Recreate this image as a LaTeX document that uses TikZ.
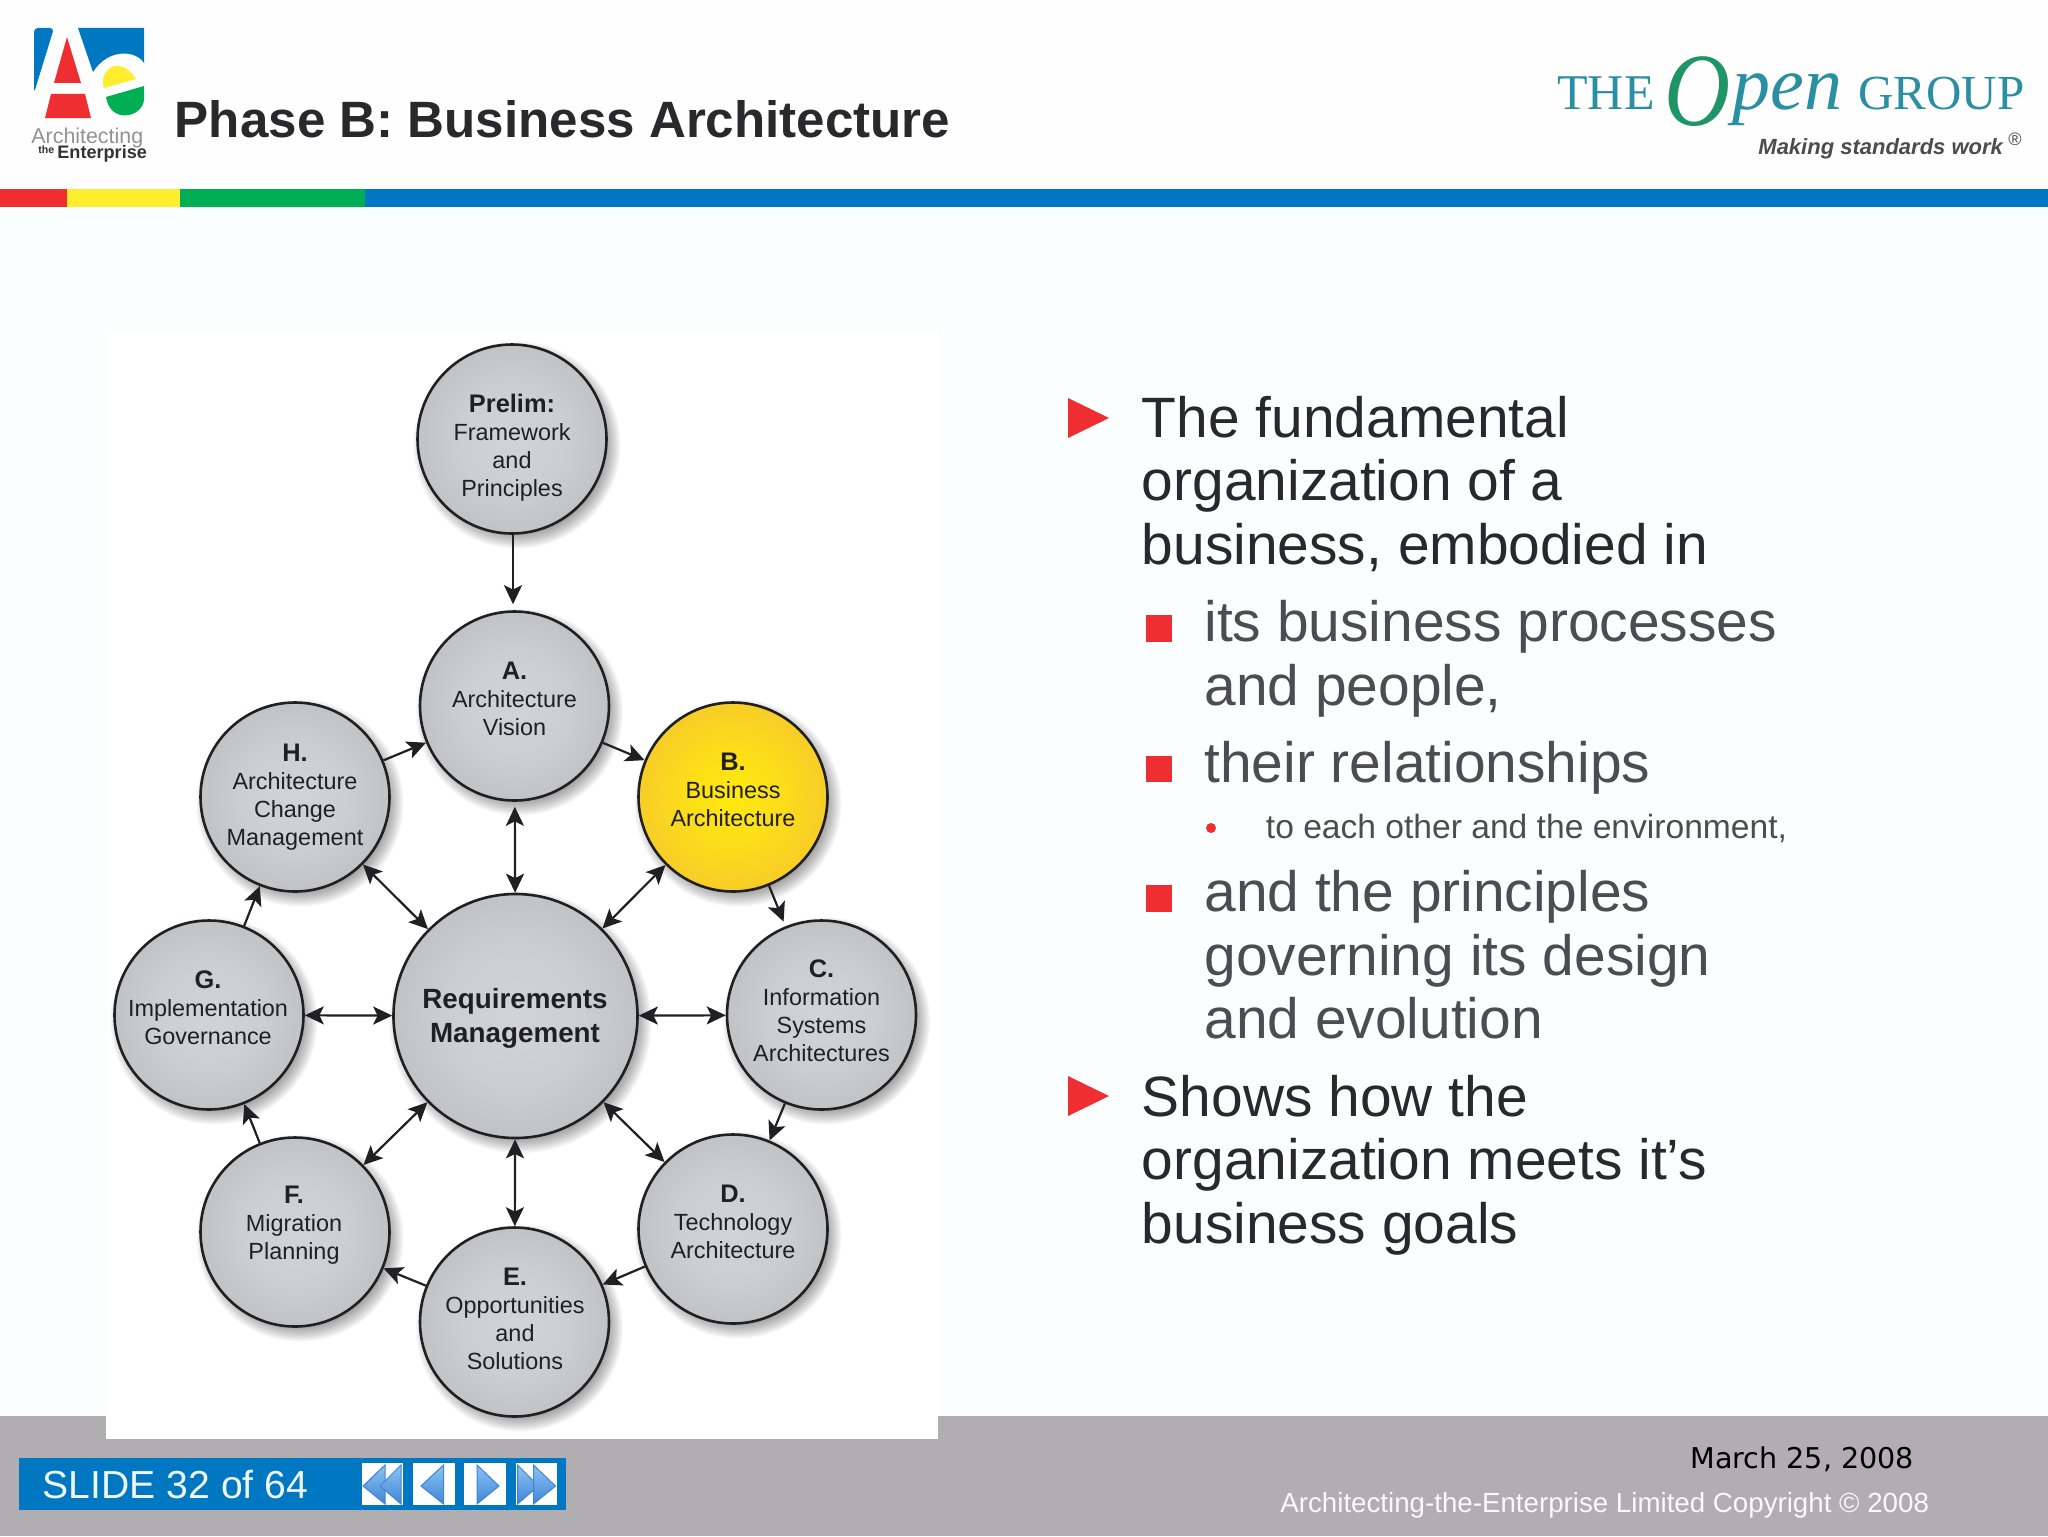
\documentclass[tikz,border=0pt]{standalone}
\usepackage{fontspec}
\usepackage{graphicx}
\setmainfont{Liberation Sans}
\newfontfamily\serifface{Liberation Serif}
\newfontfamily\dejaface{DejaVu Sans}
\usetikzlibrary{arrows.meta}
\definecolor{pagebg}{HTML}{FBFEFF}
\definecolor{headbg}{HTML}{FEFEFE}
\definecolor{footgray}{HTML}{B0AEB0}
\definecolor{barred}{HTML}{EE2E31}
\definecolor{baryellow}{HTML}{FFEE2E}
\definecolor{bargreen}{HTML}{00AE53}
\definecolor{barblue}{HTML}{0078C1}
\definecolor{teal}{HTML}{2B8FA3}
\definecolor{ogreen}{HTML}{1F9464}
\definecolor{levela}{HTML}{29292B}
\definecolor{levelb}{HTML}{4D4D50}
\definecolor{discink}{HTML}{202022}
\definecolor{btnlight}{HTML}{8CC4F5}
\definecolor{btndark}{HTML}{3F84D6}
\pgfdeclareradialshading{graydisc}{\pgfpointorigin}{rgb(0bp)=(.82,.83,.84); rgb(14bp)=(.80,.81,.82); rgb(26bp)=(.75,.76,.77); rgb(36bp)=(.66,.66,.68); rgb(50bp)=(.66,.66,.68)}
\pgfdeclareradialshading{yellowdisc}{\pgfpointorigin}{rgb(0bp)=(1,.92,.05); rgb(12bp)=(.99,.87,.1); rgb(24bp)=(.97,.81,.15); rgb(36bp)=(.95,.76,.18); rgb(50bp)=(.95,.76,.18)}
\tikzset{
  disc/.style={circle,draw=discink,line width=1.3pt,inner sep=0pt,shading=graydisc},
  yellowd/.style={shading=yellowdisc},
  disctext/.style={align=center,inner sep=0pt,text=discink,font=\fontsize{11.7}{14}\selectfont},
  link/.style={draw=discink,line width=1.1pt,>={Stealth[length=9.5pt,width=9pt,inset=2.2pt]}},
  lvlone/.style={align=left,inner sep=0pt,anchor=base west,text=levela,font=\fontsize{28.45}{31.65}\selectfont},
  lvltwo/.style={align=left,inner sep=0pt,anchor=base west,text=levelb,font=\fontsize{28.45}{31.65}\selectfont},
  lvlthree/.style={align=left,inner sep=0pt,anchor=base west,text=levelb,font=\fontsize{16.8}{20}\selectfont},
  bullettri/.style={fill=barred},
  bulletsq/.style={fill=barred},
  plain/.style={inner sep=0pt,anchor=base west},
  btnbox/.style={fill=white},
  btnarrow/.style={draw=btndark,line width=.5pt,top color=btnlight,bottom color=btndark},
}
\newcommand\phd[1]{{\fontsize{12.7}{14}\selectfont\bfseries #1}}
\newcommand\phr[1]{{\fontsize{13.9}{17}\selectfont\bfseries #1}}
\newcommand\phasedisc[8]{%
  \foreach \k in {0,...,13}{\fill[black,opacity=.035] (#2+5,#3+6) circle ({#4+9-\k*1.4});}
  \node[disc,minimum size=#4pt,#5] (#1) at (#2,#3) {};
  \node[disctext] (#1text) at (#6,#7) {#8};
}
\begin{document}
\begin{tikzpicture}[x=.5pt,y=-.5pt]
\useasboundingbox (0,0) rectangle (2048,1536);
\fill[pagebg] (0,0) rectangle (2048,1536);
\fill[headbg] (0,0) rectangle (2048,189);
% colour strip
\fill[barred] (0,189) rectangle (67,207);
\fill[baryellow] (67,189) rectangle (180,207);
\fill[bargreen] (180,189) rectangle (365,207);
\fill[barblue] (365,189) rectangle (2048,207);
% footer and white panel
\fill[footgray] (0,1416) rectangle (2048,1536);
\fill[white] (106,330) rectangle (938,1439);
% AE logo
\fill[barblue,rounded corners=2pt] (34,93) -- (34,28) -- (54,28) -- cycle;
\fill[barblue] (78,28) -- (144,28) -- (144,63) .. controls (136,50) and (108,48) .. (93,72) -- cycle;
\fill[barred] (67,37) -- (81,83) -- (54,83) -- cycle;
\fill[barred] (51,94) -- (85,94) -- (91,118) -- (45,118) -- cycle;
\fill[baryellow] (104,88) .. controls (98,72) and (118,52) .. (136,79) -- cycle;
\fill[bargreen] (106,97) -- (144,86) -- (144,100) .. controls (142,118) and (110,124) .. (106,97) -- cycle;
\node[plain,text=gray!85!white,font=\fontsize{10.7}{12}\selectfont] (logoa) at (31,143) {Architecting};
\node[plain,text=black!80,font=\fontsize{5.3}{6}\selectfont\bfseries] (logob) at (38,153) {the};
\node[plain,text=black!80,font=\fontsize{9.05}{10}\selectfont\bfseries] (logoc) at (57,158) {Enterprise};
% title
\node[plain,text=levela,font=\fontsize{25.55}{30}\selectfont\bfseries] (title) at (174.5,137) {Phase B: Business Architecture};
% Open Group logo
\node[plain,text=teal,font=\fontsize{25}{30}\serifface\selectfont] (the) at (1557,110) {THE};
\node[plain,text=ogreen,font=\fontsize{52}{54}\serifface\itshape\selectfont] (bigo) at (1664,126) {\scalebox{.88}[1]{O}};
\node[plain,text=teal,font=\fontsize{38}{40}\serifface\itshape\selectfont] (pen) at (1732,110) {pen};
\node[plain,text=teal,font=\fontsize{24.5}{30}\serifface\selectfont] (group) at (1858,110) {GROUP};
\node[plain,text=black!70,font=\fontsize{11}{13}\selectfont\bfseries\itshape] (making) at (1758,155) {Making standards work};
\node[plain,text=black!70,font=\fontsize{9}{11}\selectfont] (reg) at (2008,145) {®};
% discs
\phasedisc{prelim}{512}{439}{94.5}{}{512}{448}{\phd{Prelim:}\\Framework\\and\\Principles}
\phasedisc{A}{514.5}{706}{94.5}{}{514.5}{699}{\phd{A.}\\Architecture\\Vision}
\phasedisc{H}{295}{797}{94.5}{}{295}{797.5}{\phd{H.}\\Architecture\\Change\\Management}
\phasedisc{B}{733}{797}{94.5}{yellowd}{733}{790}{\phd{B.}\\Business\\Architecture}
\phasedisc{G}{209}{1015}{94.5}{}{208}{1008}{\phd{G.}\\Implementation\\Governance}
\phasedisc{C}{821.5}{1015}{94.5}{}{821.5}{1011}{\phd{C.}\\Information\\Systems\\Architectures}
\phasedisc{F}{295}{1232}{94.5}{}{294}{1225.3}{\phd{F.}\\Migration\\Planning}
\phasedisc{D}{733}{1229}{94.5}{}{733}{1222}{\phd{D.}\\Technology\\Architecture}
\phasedisc{E}{514.5}{1322}{94.5}{}{515}{1318.5}{\phd{E.}\\Opportunities\\and\\Solutions}
\phasedisc{req}{515.5}{1016}{122}{}{515}{1018.6}{\phr{Requirements}\\[3pt]\phr{Management}}
% connectors
\draw[link,->,shorten >=3pt] ([xshift=.5pt]prelim.south) -- ([xshift=.5pt]prelim.south |- A.north);
\draw[link,->] (H) -- (A);
\draw[link,->] (A) -- (B);
\draw[link,->,shorten >=2.5pt] (B) -- (C);
\draw[link,->] (C) -- (D);
\draw[link,->] (D) -- (E);
\draw[link,->] (E) -- (F);
\draw[link,->] (F) -- (G);
\draw[link,->] (G) -- (H);
\draw[link,<->,shorten <=2.5pt] (A) -- (req);
\draw[link,<->] (B) -- (req);
\draw[link,<->] (H) -- (req);
\draw[link,<->] (G) -- (req);
\draw[link,<->] (C) -- (req);
\draw[link,<->] (F) -- (req);
\draw[link,<->] (D) -- (req);
\draw[link,<->] (E) -- (req);
% right text
\fill[bullettri] (1068,398) -- (1109,418) -- (1068,438) -- cycle;
\node[lvlone] (ta) at (1141.5,564) {The fundamental\\organization of a\\business, embodied in};
\fill[bulletsq] (1146,615) rectangle (1172,642);
\node[lvltwo] (tb) at (1204,705) {its business processes\\and people,};
\fill[bulletsq] (1146,756) rectangle (1172,782);
\node[lvltwo] (tc) at (1204,782) {their relationships};
\fill[barred] (1211,828) circle (5);
\node[lvlthree] (td) at (1265.5,838) {to each other and the environment,};
\fill[bulletsq] (1146,885) rectangle (1172,912);
\node[lvltwo] (te) at (1204,1038.5) {and the principles\\governing its design\\and evolution};
\fill[bullettri] (1068,1076) -- (1109,1096) -- (1068,1116) -- cycle;
\node[lvlone] (tf) at (1141.5,1243) {Shows how the\\organization meets it’s\\business goals};
% footer content
\fill[barblue] (18.5,1458) rectangle (566,1510);
\node[plain,text=white!94!barblue,font=\fontsize{19.55}{23}\selectfont] (slide) at (42.5,1498) {SLIDE 32 of 64};
\fill[btnbox] (362,1463) rectangle (403,1505);
\fill[btnbox] (413,1463) rectangle (455,1505);
\fill[btnbox] (464,1463) rectangle (506,1505);
\fill[btnbox] (516,1463) rectangle (557,1505);
\path[btnarrow] (363,1486) -- (385,1465) -- (385,1504) -- cycle;
\path[btnarrow] (380,1486) -- (401,1465) -- (401,1504) -- cycle;
\path[btnarrow] (421,1486) -- (443.5,1465) -- (443.5,1504) -- cycle;
\path[btnarrow] (499,1486) -- (477,1465) -- (477,1504) -- cycle;
\path[btnarrow] (517.5,1465) -- (538.5,1486) -- (517.5,1504) -- cycle;
\path[btnarrow] (533.5,1465) -- (555.5,1486) -- (533.5,1504) -- cycle;
\node[plain,text=black,font=\fontsize{14.3}{17}\dejaface\selectfont] (date) at (1690,1468) {March 25, 2008};
\node[plain,text=white!92!footgray,font=\fontsize{13.85}{17}\selectfont] (copy) at (1280,1512) {Architecting-the-Enterprise Limited Copyright © 2008};
\end{tikzpicture}
\end{document}
